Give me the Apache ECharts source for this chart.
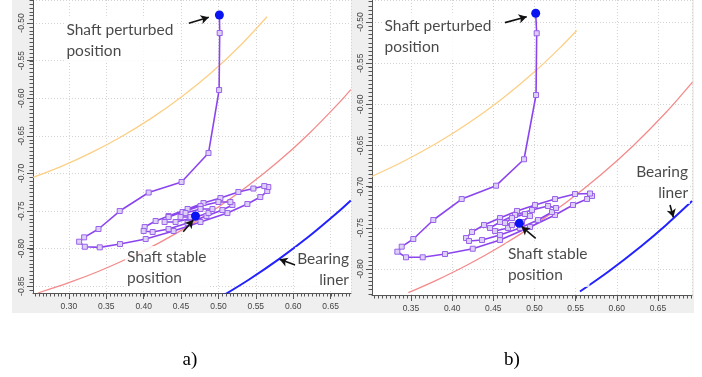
<!DOCTYPE html>
<html><head><meta charset="utf-8">
<script src="https://cdn.jsdelivr.net/npm/echarts@6/dist/echarts.min.js"></script>
<style>html,body{margin:0;padding:0;background:#fff}#c{width:702px;height:377px}</style>
</head><body><div id="c"></div>
<script>
// ---- Panel a data ----
const trajA = [
[0.5013,-0.4894],[0.5017,-0.5133],[0.5009,-0.5891],[0.4867,-0.6729],[0.4507,-0.7114],[0.4067,-0.7254],
[0.368,-0.75],[0.3396,-0.7739],[0.3204,-0.785],[0.3137,-0.7908],[0.3213,-0.7975],[0.3413,-0.7983],
[0.3684,-0.7939],[0.4027,-0.7872],[0.44,-0.7766],[0.476,-0.7646],[0.512,-0.7527],[0.5387,-0.7407],
[0.556,-0.7314],[0.5653,-0.7234],[0.5667,-0.7181],[0.5613,-0.7168],[0.5467,-0.7201],[0.5267,-0.7247],
[0.5027,-0.7327],[0.48,-0.7394],[0.4587,-0.7473],[0.4333,-0.7566],[0.416,-0.7633],[0.4013,-0.7713],
[0.40,-0.7766],[0.412,-0.7779],[0.4333,-0.7739],[0.4587,-0.766],[0.484,-0.7566],[0.5053,-0.7487],
[0.5187,-0.742],[0.516,-0.738],[0.50,-0.738],[0.476,-0.7434],[0.452,-0.7513],[0.4333,-0.758],
[0.428,-0.7646],[0.4427,-0.7646],[0.4653,-0.7593],[0.4867,-0.7527],[0.492,-0.7473],[0.476,-0.7473],
[0.456,-0.7527],[0.4493,-0.758],[0.4627,-0.758],[0.4693,-0.7566]
];
const dotsA = [[0.5013,-0.4894],[0.4693,-0.7566]];
const orangeA = [[0.252,-0.7053],[0.29,-0.6906],[0.33,-0.6724],[0.37,-0.6512],[0.41,-0.6268],[0.45,-0.5987],[0.49,-0.5665],[0.53,-0.5292],[0.565,-0.4917]];
const redA = [[0.2587,-0.859],[0.30,-0.8453],[0.34,-0.8301],[0.38,-0.8125],[0.42,-0.7926],[0.46,-0.7701],[0.50,-0.7447],[0.54,-0.7162],[0.58,-0.6843],[0.62,-0.6482],[0.66,-0.6075],[0.677,-0.5885]];
const blueA = [[0.5067,-0.8621],[0.54,-0.8417],[0.58,-0.8146],[0.62,-0.7846],[0.66,-0.7513],[0.677,-0.736]];

// ---- Panel b data ----
const trajB = [
[0.5015,-0.4894],[0.5027,-0.5137],[0.5019,-0.5887],[0.4873,-0.6668],[0.4533,-0.6989],[0.4116,-0.7151],
[0.3771,-0.7406],[0.3528,-0.7637],[0.3387,-0.773],[0.3334,-0.7791],[0.3439,-0.7859],[0.3642,-0.7859],
[0.3913,-0.7819],[0.425,-0.7755],[0.4581,-0.7649],[0.4946,-0.7491],[0.525,-0.7345],[0.5468,-0.7224],
[0.5639,-0.7151],[0.5699,-0.7114],[0.5675,-0.7084],[0.5493,-0.709],[0.525,-0.7151],[0.5007,-0.7224],
[0.4788,-0.7296],[0.4581,-0.7382],[0.4387,-0.7467],[0.4241,-0.7552],[0.4168,-0.7625],[0.4205,-0.7661],
[0.4363,-0.7649],[0.4581,-0.7588],[0.4824,-0.7503],[0.5043,-0.7406],[0.5213,-0.7309],[0.5262,-0.726],
[0.5165,-0.7236],[0.497,-0.7284],[0.4764,-0.7345],[0.4581,-0.743],[0.446,-0.7503],[0.4521,-0.754],
[0.4679,-0.7503],[0.4849,-0.743],[0.4946,-0.7357],[0.4885,-0.7333],[0.4727,-0.7382],[0.4642,-0.7442],
[0.4727,-0.7467],[0.4816,-0.7446]
];
const dotsB = [[0.5015,-0.4894],[0.4816,-0.7446]];
const orangeB = [[0.3022,-0.6877],[0.34,-0.6698],[0.38,-0.648],[0.42,-0.6228],[0.46,-0.5939],[0.50,-0.5606],[0.53,-0.5324],[0.5513,-0.5103]];
const redB = [[0.3467,-0.8289],[0.38,-0.8142],[0.42,-0.7943],[0.46,-0.7718],[0.50,-0.7465],[0.54,-0.7181],[0.58,-0.6862],[0.62,-0.6503],[0.66,-0.6097],[0.692,-0.5731]];
const blueB = [[0.5553,-0.8274],[0.59,-0.8031],[0.63,-0.7721],[0.66,-0.7466],[0.6914,-0.7176]];

// ---- minor tick values (every 0.005) ----
const fineX = [];
for (let k = 50; k <= 140; k++) fineX.push(k / 200);
const fineY = [];
for (let k = -175; k <= -92; k++) fineY.push(k / 200);

// ---- annotations (data coordinates) ----
const textsA = [
  {pos:[0.294,-0.4934], text:'Shaft perturbed\nposition', align:'left'},
  {pos:[0.375,-0.7965], text:'Shaft stable\nposition', align:'left'},
  {pos:[0.6773,-0.798], text:'Bearing\nliner', align:'right'}
];
const arrowsA = [
  [[0.4604,-0.5004],[0.4871,-0.4924]],
  [[0.4529,-0.7775],[0.4663,-0.7620]],
  [[0.6027,-0.8218],[0.5817,-0.8142]]
];
const textsB = [
  {pos:[0.3153,-0.4915], text:'Shaft perturbed\nposition', align:'left'},
  {pos:[0.4653,-0.7685], text:'Shaft stable\nposition', align:'left'},
  {pos:[0.689,-0.6677], text:'Bearing\nliner', align:'right'}
];
const arrowsB = [
  [[0.4642,-0.5008],[0.4906,-0.4936]],
  [[0.5015,-0.7628],[0.4845,-0.7487]],
  [[0.6647,-0.7224],[0.6687,-0.7373]]
];
const rangeA = {x:[0.252,0.6773], y:[-0.859,-0.4694]};
const rangeB = {x:[0.3026,0.6914], y:[-0.8317,-0.4733]};
const captions = ['a)','b)'];

function axis(gi, ext, isY){
  return {
    type:'value', gridIndex:gi, min:ext[0], max:ext[1],
    minInterval:0.05, maxInterval:0.05, splitNumber:8,
    axisLine:{show:true, onZero:false, lineStyle:{color:'#555', width:1}},
    axisTick:{show:true, inside:false, length:6, lineStyle:{color:'#555'}},
    splitLine:{show:true, lineStyle:{color:'#d4d4d4', type:[1,2], width:1}},
    axisLabel:{show:true, fontSize:8.5, color:'#444', fontFamily:'Liberation Sans',
      margin: isY?7:9, rotate: isY?90:0, showMinLabel:false, showMaxLabel:false,
      formatter:v=>v.toFixed(2)}
  };
}
function curve(gi, data, color, w){
  return {type:'line', xAxisIndex:gi, yAxisIndex:gi, data, smooth:0.3, symbol:'none',
    lineStyle:{color, width:w}, z:2, silent:true};
}
function traj(gi, data){
  return {type:'line', xAxisIndex:gi, yAxisIndex:gi, data, symbol:'rect', symbolSize:5, showAllSymbol:true,
    lineStyle:{color:'#8b45ee', width:1.6}, itemStyle:{color:'#ddd0f7', borderColor:'#9a62ea', borderWidth:1}, z:3};
}
function dots(gi, data){
  return {type:'scatter', xAxisIndex:gi, yAxisIndex:gi, data, symbolSize:9, itemStyle:{color:'#0a14f2', opacity:1}, z:4};
}
// minor ticks drawn through the axes' scales (line series with bar-like segments)
function fineTicks(gi, ext){
  const xs = fineX.filter(v => v > ext.x[0] && v < ext.x[1]);
  const ys = fineY.filter(v => v > ext.y[0] && v < ext.y[1]);
  return {type:'custom', xAxisIndex:gi, yAxisIndex:gi, silent:true, clip:false, z:8,
    data: [[ext.x[0], ext.y[0]]],
    renderItem:(params, api) => {
      const children = [];
      xs.forEach(v => { const p = api.coord([v, ext.y[0]]); const x = Math.round(p[0]) + 0.5, y = Math.round(p[1]);
        children.push({type:'line', shape:{x1:x, y1:y, x2:x, y2:y+3.5}, style:{stroke:'#555', lineWidth:1}}); });
      ys.forEach(v => { const p = api.coord([ext.x[0], v]); const x = Math.round(p[0]), y = Math.round(p[1]) + 0.5;
        children.push({type:'line', shape:{x1:x, y1:y, x2:x-3.5, y2:y}, style:{stroke:'#555', lineWidth:1}}); });
      return {type:'group', children};
    }};
}
function notes(gi, texts, arrows){
  return {type:'scatter', xAxisIndex:gi, yAxisIndex:gi, symbolSize:0.1, itemStyle:{color:'transparent'}, z:5,
    data: texts.map(t=>({value:t.pos, label:{show:true, position:'inside', formatter:t.text, align:t.align,
      verticalAlign:'top', fontFamily:'Lato', fontSize:15.5, color:'#1a1a1a', lineHeight:21,
      backgroundColor:'#fff', padding:[1,2]}})),
    markLine:{silent:true, symbol:['none','arrow'], symbolSize:[7,8], animation:false,
      label:{show:false}, lineStyle:{color:'#111', width:1.6, type:'solid'},
      data: arrows.map(a=>[{coord:a[0]},{coord:a[1]}])}
  };
}
const chart = echarts.init(document.getElementById('c'), null, {renderer:'canvas'});
chart.setOption({
  animation:false,
  backgroundColor:'#fff',
  graphic:[
    {type:'rect', z:-10, shape:{x:12,y:0,width:340,height:313}, style:{fill:'#efefef'}},
    {type:'rect', z:-10, shape:{x:352,y:0,width:342,height:313}, style:{fill:'#efefef'}},
    {type:'text', x:190, y:360, style:{text:captions[0], font:'19px "Liberation Serif"', fill:'#000', align:'center', verticalAlign:'middle'}},
    {type:'text', x:512, y:360, style:{text:captions[1], font:'19px "Liberation Serif"', fill:'#000', align:'center', verticalAlign:'middle'}}
  ],
  grid:[
    {left:33, top:0, width:318, height:293, show:true, backgroundColor:'#fff', borderWidth:0},
    {left:372, top:0, width:320, height:295, show:true, backgroundColor:'#fff', borderWidth:0}
  ],
  xAxis:[axis(0, rangeA.x, false), axis(1, rangeB.x, false)],
  yAxis:[axis(0, rangeA.y, true), axis(1, rangeB.y, true)],
  series:[
    curve(0, orangeA, '#fdcf85', 1.3), curve(0, redA, '#f48a8a', 1.3), curve(0, blueA, '#2222ff', 2),
    traj(0, trajA), dots(0, dotsA), notes(0, textsA, arrowsA),
    curve(1, orangeB, '#fdcf85', 1.3), curve(1, redB, '#f48a8a', 1.3), curve(1, blueB, '#2222ff', 2),
    traj(1, trajB), dots(1, dotsB), notes(1, textsB, arrowsB),
    fineTicks(1, rangeB), fineTicks(0, rangeA)
  ]
});
</script></body></html>
